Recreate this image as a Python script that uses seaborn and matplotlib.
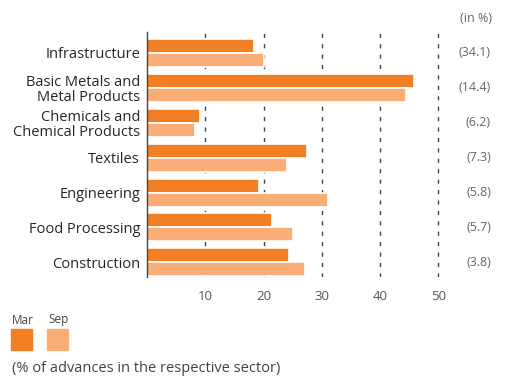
import matplotlib
matplotlib.use("Agg")
import matplotlib.pyplot as plt
import matplotlib.transforms as mtransforms
from matplotlib.patches import Rectangle
import seaborn as sns
import pandas as pd

sectors = ["Infrastructure", "Basic Metals and\nMetal Products", "Chemicals and\nChemical Products",
           "Textiles", "Engineering", "Food Processing", "Construction"]
mar_values = [18.3, 45.9, 9.1, 27.4, 19.2, 21.5, 24.3]
sep_values = [20.0, 44.4, 8.2, 24.1, 31.1, 25.0, 27.1]
sector_share = ["(34.1)", "(14.4)", "(6.2)", "(7.3)", "(5.8)", "(5.7)", "(3.8)"]
x_ticks = [10, 20, 30, 40, 50]
periods = ["Mar", "Sep"]
colors = {"Mar": "#F37F25", "Sep": "#F9AE78"}

df = pd.DataFrame({
    "sector": sectors * 2,
    "value": mar_values + sep_values,
    "period": ["Mar"] * len(sectors) + ["Sep"] * len(sectors),
})

sns.set_theme(style="white")
plt.rcParams["font.family"] = ["Open Sans", "DejaVu Sans"]

W, H = 506, 376
fig = plt.figure(figsize=(W / 100, H / 100), dpi=100)
ax = fig.add_axes([147 / W, 1 - 277 / H, 303 / W, 245 / H])

sns.barplot(data=df, y="sector", x="value", hue="period", order=sectors,
            hue_order=periods, palette=colors, saturation=1, orient="h", width=0.8,
            edgecolor="white", linewidth=1.2, legend=False, ax=ax)

ax.set_xlim(0, 52)
ax.set_ylim(6.42, -0.6)
ax.set_xticks(x_ticks)
ax.set_xticklabels([str(t) for t in x_ticks], fontsize=9.5, color="#555555")
ax.tick_params(axis="both", length=0, pad=9)
ax.tick_params(axis="y", pad=5)
for lbl in ax.get_yticklabels():
    lbl.set_fontsize(10.5)
    lbl.set_color("#262626")
    lbl.set_fontweight("medium")
    lbl.set_linespacing(1.0)
ax.set_xlabel("")
ax.set_ylabel("")

for t in x_ticks:
    ax.axvline(t, color="#444444", linestyle=(0, (3.0, 4.5)), linewidth=1.0, zorder=0)

for side in ["top", "right", "bottom"]:
    ax.spines[side].set_visible(False)
ax.spines["left"].set_color("#444444")
ax.spines["left"].set_linewidth(1.0)

# sector share column on the right
trans = mtransforms.blended_transform_factory(fig.transFigure, ax.transData)
for i, share in enumerate(sector_share):
    ax.text(491 / W, i, share, transform=trans, ha="right", va="center",
            fontsize=9, color="#666666")
fig.text(492 / W, 1 - 18 / H, "(in %)", ha="right", va="center",
         fontsize=9, color="#666666")

# legend: labels above colour squares
for j, p in enumerate(periods):
    x0 = 11 + j * 36
    fig.text((x0 + 1) / W, 1 - 320 / H, p, ha="left", va="center",
             fontsize=8.5, color="#444444")
    fig.patches.append(Rectangle((x0 / W, 1 - 350 / H), 21 / W, 21 / H,
                                 transform=fig.transFigure, color=colors[p]))

fig.text(12 / W, 1 - 368 / H, "(% of advances in the respective sector)",
         ha="left", va="center", fontsize=10.5, color="#444444")

fig.savefig("out.png", dpi=100)
